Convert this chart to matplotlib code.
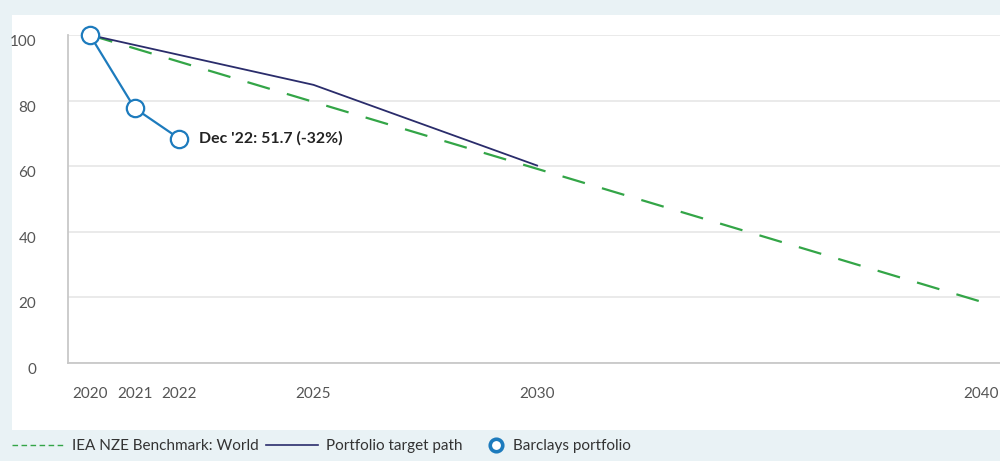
import matplotlib
matplotlib.use("Agg")
import matplotlib.pyplot as plt
import matplotlib.transforms as mtransforms
from matplotlib.lines import Line2D
from matplotlib.patches import Rectangle

plt.rcParams['font.family'] = ['Lato', 'DejaVu Sans']

# Data
iea_years = [2020, 2030, 2040]
iea_values = [100, 59.2, 18.4]
target_years = [2020, 2025, 2030]
target_values = [100, 84.8, 60.2]
barclays_years = [2020, 2021, 2022]
barclays_values = [100, 77.7, 68.4]
xticks = [2020, 2021, 2022, 2025, 2030, 2040]
yticks = [0, 20, 40, 60, 80, 100]
annotation = "Dec '22: 51.7 (-32%)"
legend_labels = ["IEA NZE Benchmark: World", "Portfolio target path", "Barclays portfolio"]

green = '#33a547'
navy = '#2a2c6b'
blue = '#1d7bbd'
bg = '#e9f2f5'

fig = plt.figure(figsize=(10, 4.61), dpi=100)
fig.patch.set_facecolor(bg)
# white panel
fig.patches.append(Rectangle((0.012, (461 - 430) / 461), 0.988, (430 - 15) / 461,
                             transform=fig.transFigure, facecolor='white',
                             edgecolor='none', zorder=-10))

ax = fig.add_axes([0.068, (461 - 363) / 461, 0.932, (363 - 35) / 461], zorder=2)
ax.set_facecolor('white')
ax.set_xlim(2019.51, 2040.35)
ax.set_ylim(0, 100)

ax.plot(iea_years, iea_values, color=green, lw=1.6, dashes=(10.5, 8), zorder=3,
        clip_on=False)
ax.plot(target_years, target_values, color=navy, lw=1.3, zorder=4, clip_on=False)
ax.plot(barclays_years, barclays_values, color=blue, lw=1.6, marker='o',
        markersize=12.5, markerfacecolor='white', markeredgecolor=blue,
        markeredgewidth=1.6, zorder=5, clip_on=False)

ax.annotate(annotation, xy=(barclays_years[-1], barclays_values[-1]),
            xytext=(14, 0), textcoords='offset points', ha='left', va='center',
            fontsize=11.4, fontweight='bold', color='#222222')

ax.set_xticks(xticks)
ax.set_xticklabels([str(x) for x in xticks])
ax.set_yticks(yticks)
ax.set_yticklabels([str(y) for y in yticks])
ax.tick_params(axis='both', length=0, labelsize=11, labelcolor='#555555')
ax.tick_params(axis='x', pad=17)
ax.tick_params(axis='y', pad=23)
offset = mtransforms.ScaledTranslation(0, -4 / 72, fig.dpi_scale_trans)
for lab in ax.get_yticklabels():
    lab.set_transform(lab.get_transform() + offset)
last_offset = mtransforms.ScaledTranslation(-3 / 100, 0, fig.dpi_scale_trans)
xlabs = ax.get_xticklabels()
xlabs[-1].set_transform(xlabs[-1].get_transform() + last_offset)

ax.grid(axis='y', color='#e6e6e6', lw=1.2)
ax.set_axisbelow(True)
for s in ['top', 'right']:
    ax.spines[s].set_visible(False)
for s in ['left', 'bottom']:
    ax.spines[s].set_color('#c8c8c8')
    ax.spines[s].set_linewidth(1.3)

h_green = Line2D([], [], color=green, lw=1.0, dashes=(4, 2.5))
h_navy = Line2D([], [], color=navy, lw=1.2)
h_blue = Line2D([], [], color=blue, lw=0, marker='o', markersize=9,
                markerfacecolor='white', markeredgecolor=blue, markeredgewidth=2.6)
ly = (461 - 446) / 461
leg1 = fig.legend([h_green, h_navy], legend_labels[:2], loc='center left',
                  bbox_to_anchor=(-0.0015, ly), ncol=2, frameon=False,
                  fontsize=11, handlelength=3.4, handletextpad=0.5,
                  columnspacing=0.5, labelcolor='#333333')
leg2 = fig.legend([h_blue], legend_labels[2:], loc='center left',
                  bbox_to_anchor=(0.473, ly), frameon=False,
                  fontsize=11, handlelength=1.2, handletextpad=0.5,
                  labelcolor='#333333')

fig.savefig('out.png', dpi=100, facecolor=bg)
